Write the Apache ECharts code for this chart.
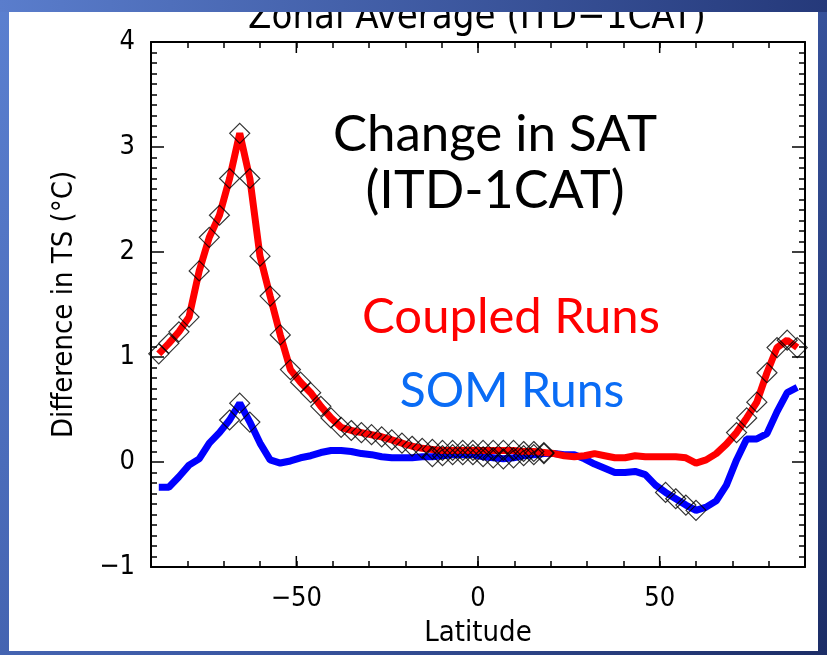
<!DOCTYPE html>
<html>
<head>
<meta charset="utf-8">
<script src="https://cdn.jsdelivr.net/npm/echarts@6/dist/echarts.min.js"></script>
<style>
  html, body { margin: 0; padding: 0; }
  #chart { width: 827px; height: 655px; }
</style>
</head>
<body>
<div id="chart"></div>
<script>
// Gaussian-grid latitudes (deg)
const latitudes = [
  -87.86, -85.10, -82.31, -79.53, -76.74, -73.95, -71.16, -68.37, -65.58, -62.79,
  -60.00, -57.21, -54.42, -51.63, -48.84, -46.05, -43.25, -40.46, -37.67, -34.88,
  -32.09, -29.30, -26.51, -23.72, -20.93, -18.14, -15.35, -12.56, -9.77, -6.98,
  -4.19, -1.40, 1.40, 4.19, 6.98, 9.77, 12.56, 15.35, 18.14, 20.93,
  23.72, 26.51, 29.30, 32.09, 34.88, 37.67, 40.46, 43.25, 46.05, 48.84,
  51.63, 54.42, 57.21, 60.00, 62.79, 65.58, 68.37, 71.16, 73.95, 76.74,
  79.53, 82.31, 85.10, 87.86
];

// Coupled runs, change in TS (°C)
const coupled = [
  1.03, 1.13, 1.24, 1.38, 1.82, 2.14, 2.35, 2.70, 3.13, 2.70,
  1.96, 1.58, 1.21, 0.88, 0.76, 0.66, 0.53, 0.42, 0.33, 0.30,
  0.28, 0.26, 0.24, 0.21, 0.18, 0.15, 0.13, 0.12, 0.11, 0.11,
  0.11, 0.11, 0.11, 0.11, 0.11, 0.11, 0.10, 0.10, 0.09, 0.08,
  0.06, 0.05, 0.06, 0.08, 0.06, 0.04, 0.04, 0.06, 0.05, 0.05,
  0.05, 0.05, 0.04, -0.01, 0.02, 0.08, 0.17, 0.28, 0.42, 0.57,
  0.85, 1.09, 1.16, 1.09
];

// Slab-ocean (SOM) runs
const som = [
  -0.24, -0.24, -0.14, -0.03, 0.03, 0.18, 0.28, 0.40, 0.56, 0.38,
  0.18, 0.02, -0.01, 0.01, 0.04, 0.06, 0.09, 0.11, 0.11, 0.10,
  0.08, 0.07, 0.05, 0.04, 0.04, 0.04, 0.05, 0.05, 0.06, 0.07,
  0.07, 0.07, 0.05, 0.04, 0.03, 0.04, 0.06, 0.07, 0.08, 0.08,
  0.07, 0.07, 0.03, -0.02, -0.06, -0.10, -0.10, -0.09, -0.12, -0.22,
  -0.29, -0.35, -0.41, -0.46, -0.43, -0.37, -0.22, 0.02, 0.22, 0.22,
  0.27, 0.48, 0.66, 0.71
];

// latitudes marked with a diamond (significant change)
const coupledMarked = [
  -87.86, -85.10, -82.31, -79.53, -76.74, -73.95, -71.16, -68.37, -65.58, -62.79,
  -60.00, -57.21, -54.42, -51.63, -48.84, -46.05, -43.25, -40.46, -37.67, -34.88,
  -32.09, -29.30, -26.51, -23.72, -20.93, -18.14, -15.35, -12.56, -9.77, -6.98,
  -4.19, -1.40, 1.40, 4.19, 6.98, 9.77, 12.56, 15.35, 18.14,
  71.16, 73.95, 76.74, 79.53, 82.31, 85.10, 87.86
];
const somMarked = [
  -68.37, -65.58, -62.79,
  -12.56, -9.77, -6.98, -4.19, -1.40, 1.40, 4.19, 6.98, 9.77, 12.56, 15.35, 18.14,
  51.63, 54.42, 57.21, 60.00
];

// labelled (long) ticks on the latitude axis
const xMajorTicks = [-50, 0, 50];

const axisFont = "'Liberation Sans Narrow', 'DejaVu Sans Condensed', sans-serif";

function pairs(values) {
  return latitudes.map((lat, i) => [lat, values[i]]);
}

function marked(values, lats) {
  return lats.map(lat => [lat, values[latitudes.indexOf(lat)]]);
}

function minus(v) {
  return String(v).replace('-', '\u2212');
}

const chart = echarts.init(document.getElementById('chart'));

const bgGradient = new echarts.graphic.LinearGradient(0, 0, 1, 1, [
  { offset: 0, color: '#5b80d0' },
  { offset: 0.55, color: '#3b58a4' },
  { offset: 1, color: '#1c2d66' }
]);

const lineBlack = { color: '#000', width: 1.5 };

const option = {
  animation: false,
  backgroundColor: '#fff',
  grid: { left: 151, right: 22, top: 42, bottom: 88 },
  graphic: [
    { type: 'rect', z: -10, silent: true, shape: { x: 0, y: 0, width: 827, height: 655 }, style: { fill: bgGradient } },
    { type: 'rect', z: -9, silent: true, shape: { x: 9, y: 12, width: 809, height: 639 }, style: { fill: '#fff' } },
    {
      type: 'text', z: 50, silent: true, x: 477, y: 37,
      style: { text: 'Zonal Average (ITD\u22121CAT)', fontFamily: axisFont, fontSize: 38, fill: '#000', align: 'center', verticalAlign: 'bottom' }
    },
    { type: 'rect', z: 60, silent: true, shape: { x: 0, y: 0, width: 827, height: 12 }, style: { fill: new echarts.graphic.LinearGradient(0, 0, 1, 0, [
      { offset: 0, color: '#5a7dcc' }, { offset: 1, color: '#25397a' }]) } },
    {
      type: 'text', z: 50, silent: true, x: 495, y: 135,
      style: { text: 'Change in SAT', fontFamily: "'Comic Sans MS', Lato, sans-serif", fontSize: 51, fill: '#000', align: 'center', verticalAlign: 'middle' }
    },
    {
      type: 'text', z: 50, silent: true, x: 495, y: 191,
      style: { text: '(ITD-1CAT)', fontFamily: "'Comic Sans MS', Lato, sans-serif", fontSize: 52, fill: '#000', align: 'center', verticalAlign: 'middle' }
    },
    {
      type: 'text', z: 50, silent: true, x: 511, y: 317,
      style: { text: 'Coupled Runs', fontFamily: "Lato, 'Open Sans', sans-serif", fontSize: 49, fill: '#ff0000', align: 'center', verticalAlign: 'middle' }
    },
    {
      type: 'text', z: 50, silent: true, x: 512, y: 392,
      style: { text: 'SOM Runs', fontFamily: "Lato, 'Open Sans', sans-serif", fontSize: 48, fill: '#0a6cf5', align: 'center', verticalAlign: 'middle' }
    }
  ],
  xAxis: [
    {
      type: 'value', position: 'bottom', min: -90, max: 90, interval: 10,
      name: 'Latitude', nameLocation: 'middle', nameGap: 52,
      nameTextStyle: { fontFamily: axisFont, fontSize: 29, color: '#000' },
      axisLine: { show: true, onZero: false, lineStyle: { color: '#000', width: 2 } },
      axisTick: { show: true, inside: true, length: 6, lineStyle: lineBlack },
      axisLabel: {
        margin: 18, fontFamily: axisFont, fontSize: 27, color: '#000',
        formatter: v => (xMajorTicks.indexOf(v) >= 0 ? minus(v) : '')
      },
      splitLine: { show: false }
    },
    {
      type: 'value', position: 'top', min: -90, max: 90, interval: 10,
      axisLine: { show: true, onZero: false, lineStyle: { color: '#000', width: 2 } },
      axisTick: { show: true, inside: true, length: 6, lineStyle: lineBlack },
      axisLabel: { show: false },
      splitLine: { show: false }
    }
  ],
  yAxis: [
    {
      type: 'value', position: 'left', min: -1, max: 4, interval: 1,
      name: 'Difference in TS (\u00b0C)', nameLocation: 'middle', nameGap: 72,
      nameTextStyle: { fontFamily: axisFont, fontSize: 29, color: '#000' },
      axisLine: { show: true, onZero: false, lineStyle: { color: '#000', width: 2 } },
      axisTick: { show: true, inside: true, length: 13, lineStyle: lineBlack },
      minorTick: { show: true, splitNumber: 10, length: 6, lineStyle: lineBlack },
      axisLabel: { margin: 16, formatter: minus, fontFamily: axisFont, fontSize: 27, color: '#000' },
      splitLine: { show: false }
    },
    {
      type: 'value', position: 'right', min: -1, max: 4, interval: 1,
      axisLine: { show: true, onZero: false, lineStyle: { color: '#000', width: 2 } },
      axisTick: { show: true, inside: true, length: 13, lineStyle: lineBlack },
      minorTick: { show: true, splitNumber: 10, length: 6, lineStyle: lineBlack },
      axisLabel: { show: false },
      splitLine: { show: false }
    }
  ],
  series: [
    {
      // long ticks at the labelled latitudes, bottom and top edges
      name: 'major ticks', type: 'custom', silent: true, z: 6, clip: false,
      data: xMajorTicks.map(v => [v]),
      encode: { x: 0 },
      renderItem: function (params, api) {
        const bottom = api.coord([api.value(0), -1]);
        const top = api.coord([api.value(0), 4]);
        return {
          type: 'group',
          children: [
            { type: 'line', shape: { x1: bottom[0], y1: bottom[1], x2: bottom[0], y2: bottom[1] - 11 }, style: { stroke: '#000', lineWidth: 1.5 } },
            { type: 'line', shape: { x1: top[0], y1: top[1], x2: top[0], y2: top[1] + 11 }, style: { stroke: '#000', lineWidth: 1.5 } }
          ]
        };
      }
    },
    {
      name: 'SOM Runs', type: 'line', data: pairs(som), showSymbol: false, z: 3,
      lineStyle: { color: '#0000ff', width: 7 }
    },
    {
      name: 'Coupled Runs', type: 'line', data: pairs(coupled), showSymbol: false, z: 4,
      lineStyle: { color: '#ff0000', width: 7 }
    },
    {
      name: 'SOM significant', type: 'scatter', data: marked(som, somMarked), z: 5,
      symbol: 'diamond', symbolSize: 20,
      itemStyle: { color: 'rgba(0,0,0,0)', borderColor: '#000', borderWidth: 1.2 }
    },
    {
      name: 'Coupled significant', type: 'scatter', data: marked(coupled, coupledMarked), z: 5,
      symbol: 'diamond', symbolSize: 20,
      itemStyle: { color: 'rgba(0,0,0,0)', borderColor: '#000', borderWidth: 1.2 }
    }
  ]
};

chart.setOption(option);
</script>
</body>
</html>
